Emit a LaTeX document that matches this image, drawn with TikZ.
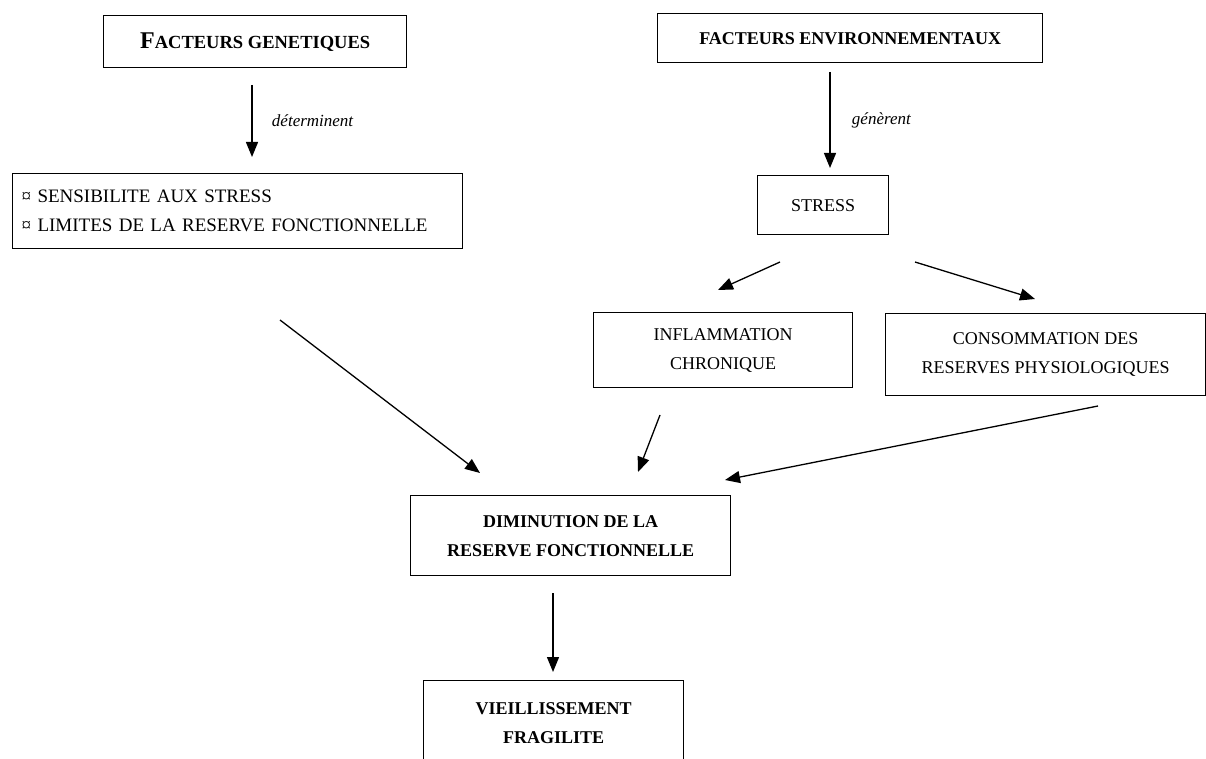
\documentclass[tikz,border=0pt]{standalone}
\usepackage{fontspec}
\setmainfont{Liberation Serif}
\usetikzlibrary{arrows.meta}
\begin{document}
\begin{tikzpicture}[x=1pt,y=-1pt,
  box/.style={draw=black,line width=1.4pt,inner sep=0pt,anchor=north west,align=center},
  arr/.style={draw=black,line width=1.3pt,-{Triangle[width=12pt,length=15pt]}},
  lbl/.style={font=\fontsize{17}{20}\selectfont\itshape,anchor=west},
  reg/.style={font=\fontsize{18}{29}\selectfont},
  bld/.style={font=\fontsize{18}{29}\selectfont\bfseries}]
\useasboundingbox (0,0) rectangle (1206,759);
% boxes
\node[box,minimum width=303pt,minimum height=52pt] (gen) at (103,15)
  {\bfseries{\fontsize{24}{26}\selectfont F}{\fontsize{18.5}{22}\selectfont ACTEURS GENETIQUES}};
\node[box,minimum width=385pt,minimum height=49pt,bld] (env) at (657,13)
  {FACTEURS ENVIRONNEMENTAUX};
\node[box,minimum width=450pt,minimum height=75pt,align=left,text width=432pt,
  font=\fontsize{19}{29}\selectfont] (sens) at (12,173)
  {¤ SENSIBILITE AUX STRESS\\ ¤ LIMITES DE LA RESERVE FONCTIONNELLE};
\node[box,minimum width=131pt,minimum height=59pt,reg] (stress) at (757,175) {STRESS};
\node[box,minimum width=259pt,minimum height=75pt,reg] (infl) at (593,312) {INFLAMMATION\\CHRONIQUE};
\node[box,minimum width=320pt,minimum height=82pt,reg] (cons) at (885,313) {CONSOMMATION DES\\RESERVES PHYSIOLOGIQUES};
\node[box,minimum width=320pt,minimum height=80pt,bld] (dim) at (410,495) {DIMINUTION DE LA\\RESERVE FONCTIONNELLE};
\node[box,minimum width=260pt,minimum height=84pt,bld] (vie) at (423,680) {VIEILLISSEMENT\\FRAGILITE};
% connector endpoints
\coordinate (g1) at (252,85);  \coordinate (g2) at (252,157);
\coordinate (e1) at (830,72);  \coordinate (e2) at (830,168);
\coordinate (s1) at (780,262); \coordinate (s2) at (718,290);
\coordinate (s3) at (915,262); \coordinate (s4) at (1035,299);
\coordinate (a1) at (280,320); \coordinate (a2) at (480,473);
\coordinate (b1) at (660,415); \coordinate (b2) at (638,472);
\coordinate (c1) at (1098,406); \coordinate (c2) at (725,480);
\coordinate (d1) at (553,593); \coordinate (d2) at (553,672);
\draw[arr] (g1) -- node[lbl,right=16pt]{déterminent} (g2);
\draw[arr] (e1) -- node[lbl,right=18pt]{génèrent} (e2);
\draw[arr] (s1) -- (s2);
\draw[arr] (s3) -- (s4);
\draw[arr] (a1) -- (a2);
\draw[arr] (b1) -- (b2);
\draw[arr] (c1) -- (c2);
\draw[arr] (d1) -- (d2);
\end{tikzpicture}
\end{document}
